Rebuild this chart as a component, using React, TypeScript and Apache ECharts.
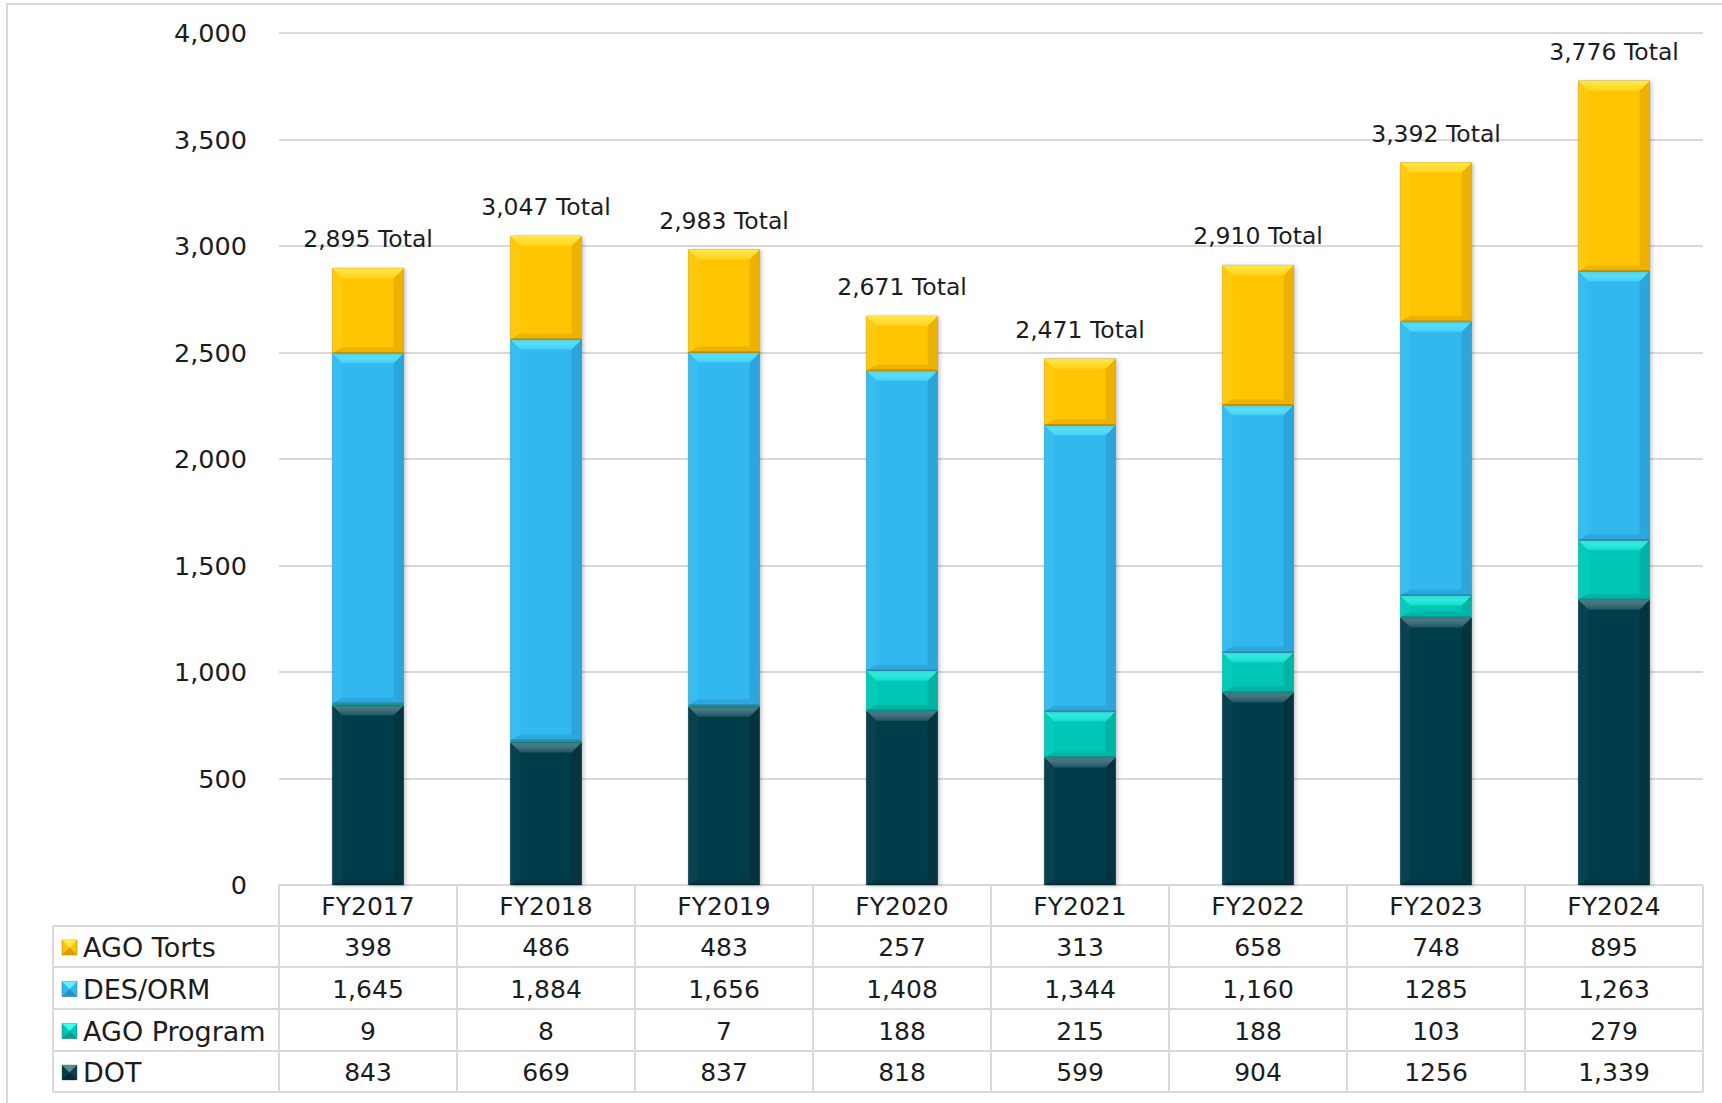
import React, { useEffect, useRef } from "react";
import * as echarts from "echarts";

// ---------- data ----------
const categories = ["FY2017", "FY2018", "FY2019", "FY2020", "FY2021", "FY2022", "FY2023", "FY2024"];
const agoTorts = [398, 486, 483, 257, 313, 658, 748, 895];
const desOrm = [1645, 1884, 1656, 1408, 1344, 1160, 1285, 1263];
const agoProgram = [9, 8, 7, 188, 215, 188, 103, 279];
const dot = [843, 669, 837, 818, 599, 904, 1256, 1339];

// table cell texts exactly as printed
const agoTortsText = ["398", "486", "483", "257", "313", "658", "748", "895"];
const desOrmText = ["1,645", "1,884", "1,656", "1,408", "1,344", "1,160", "1285", "1,263"];
const agoProgramText = ["9", "8", "7", "188", "215", "188", "103", "279"];
const dotText = ["843", "669", "837", "818", "599", "904", "1256", "1,339"];

const yMin = 0;
const yMax = 4000;
const yInterval = 500;

// ---------- layout / style ----------
const W = 1722;
const H = 1103;
const GRID_L = 279;
const GRID_R = 1703;
const GRID_T = 33;
const GRID_B = 885;
const ROWS = [885, 926, 967, 1009, 1051, 1092];
const TABLE_L = 53;
const FONT = "'DejaVu Sans', 'Noto Sans', sans-serif";
const TXT = "#1c1c1c";
const LINE = "#d9d9d9";

type Pal = { body: string; top: string; topEnd: string; left: string; right: string; bottom: string; key: string };
const palTorts: Pal = { body: "#FFC504", top: "#FFE846", topEnd: "#FFD420", left: "#FFC90E", right: "#EDB102", bottom: "#EDB300", key: "#D9A000" };
const palDes: Pal = { body: "#33B8EE", top: "#64F0FF", topEnd: "#45CDF5", left: "#38BDF0", right: "#2CA6DA", bottom: "#2DA8DE", key: "#2692C6" };
const palProg: Pal = { body: "#00C6B5", top: "#40FBF0", topEnd: "#14DACA", left: "#05CBBB", right: "#00B3A4", bottom: "#00B4A5", key: "#009E90" };
const palDot: Pal = { body: "#063C4B", top: "#5C8996", topEnd: "#205463", left: "#08414F", right: "#05343F", bottom: "#053442", key: "#032A34" };

const stackSeries = [
  { name: "DOT", values: dot, pal: palDot },
  { name: "AGO Program", values: agoProgram, pal: palProg },
  { name: "DES/ORM", values: desOrm, pal: palDes },
  { name: "AGO Torts", values: agoTorts, pal: palTorts },
];

const tableRows = [
  { name: "AGO Torts", texts: agoTortsText, pal: palTorts },
  { name: "DES/ORM", texts: desOrmText, pal: palDes },
  { name: "AGO Program", texts: agoProgramText, pal: palProg },
  { name: "DOT", texts: dotText, pal: palDot },
];

function bevelRenderer(pal: Pal) {
  return (params: any, api: any) => {
    const idx = api.value(0);
    const lo = api.value(1);
    const hi = api.value(2);
    const pLo = api.coord([idx, lo]);
    const pHi = api.coord([idx, hi]);
    const bw = api.size([1, 0])[0] * 0.4;
    const x0 = pLo[0] - bw / 2;
    const x1 = pLo[0] + bw / 2;
    const yTop = pHi[1];
    const yBot = pLo[1];
    const h = yBot - yTop;
    const b = Math.min(10, h / 2, bw / 2);
    const bb = Math.min(6, h / 3);
    return {
      type: "group",
      children: [
        {
          type: "rect",
          shape: { x: x0, y: yTop, width: bw, height: h },
          style: {
            fill: pal.body,
            stroke: "rgba(70,70,70,0.3)",
            lineWidth: 1,
            shadowBlur: 4,
            shadowColor: "rgba(0,0,0,0.22)",
            shadowOffsetX: 2,
            shadowOffsetY: 1,
          },
        },
        {
          type: "polygon",
          shape: { points: [[x0, yTop], [x0 + b, yTop + b], [x0 + b, yBot - bb], [x0, yBot]] },
          style: { fill: pal.left },
        },
        {
          type: "polygon",
          shape: { points: [[x1, yTop], [x1, yBot], [x1 - b, yBot - bb], [x1 - b, yTop + b]] },
          style: { fill: pal.right },
        },
        {
          type: "polygon",
          shape: { points: [[x0, yBot], [x0 + b, yBot - bb], [x1 - b, yBot - bb], [x1, yBot]] },
          style: { fill: pal.bottom },
        },
        {
          type: "polygon",
          shape: { points: [[x0, yTop], [x1, yTop], [x1 - b, yTop + b], [x0 + b, yTop + b]] },
          style: {
            fill: new echarts.graphic.LinearGradient(0, 0, 0, 1, [
              { offset: 0, color: pal.top },
              { offset: 1, color: pal.topEnd },
            ]),
          },
        },
        {
          type: "line",
          shape: { x1: x0 + 0.5, y1: yBot - 0.5, x2: x1 - 0.5, y2: yBot - 0.5 },
          style: { stroke: "rgba(0,0,0,0.18)", lineWidth: 1.5 },
        },
      ],
    };
  };
}

function fmt(n: number) {
  return n.toLocaleString("en-US");
}

function buildOption() {
  const base = categories.map(() => 0);
  const series: any[] = stackSeries.map((s) => {
    const data = s.values.map((v, i) => {
      const lo = base[i];
      base[i] += v;
      return [i, lo, lo + v];
    });
    return {
      type: "custom",
      name: s.name,
      renderItem: bevelRenderer(s.pal),
      encode: { x: 0, y: [1, 2] },
      data,
      z: 2,
    };
  });
  const totals = base.slice();
  series.push({
    type: "custom",
    name: "Total",
    encode: { x: 0, y: 1 },
    data: totals.map((t, i) => [i, t]),
    z: 3,
    renderItem: (params: any, api: any) => {
      const p = api.coord([api.value(0), api.value(1)]);
      return {
        type: "text",
        x: p[0],
        y: p[1] - 29,
        style: {
          text: fmt(api.value(1)) + " Total",
          fill: TXT,
          fontSize: 23.5,
          fontFamily: FONT,
          align: "center",
          verticalAlign: "middle",
        },
      };
    },
  });

  // ----- data table as graphics -----
  const colW = (GRID_R - GRID_L) / categories.length;
  const g: any[] = [];
  // outer frame (only top/left visible in the crop)
  g.push({
    type: "rect",
    shape: { x: 7, y: 4, width: W + 40, height: H + 40 },
    style: { fill: "none", stroke: LINE, lineWidth: 2 },
    silent: true,
    z: 0,
  });
  ROWS.forEach((y, r) => {
    g.push({
      type: "line",
      shape: { x1: r === 0 ? GRID_L : TABLE_L, y1: y, x2: GRID_R, y2: y },
      style: { stroke: LINE, lineWidth: 2 },
      silent: true,
    });
  });
  g.push({
    type: "line",
    shape: { x1: TABLE_L, y1: ROWS[1], x2: TABLE_L, y2: ROWS[5] },
    style: { stroke: LINE, lineWidth: 2 },
    silent: true,
  });
  for (let k = 0; k <= categories.length; k++) {
    const x = GRID_L + k * colW;
    g.push({
      type: "line",
      shape: { x1: x, y1: ROWS[0], x2: x, y2: ROWS[5] },
      style: { stroke: LINE, lineWidth: 2 },
      silent: true,
    });
  }
  categories.forEach((c, i) => {
    g.push({
      type: "text",
      x: GRID_L + (i + 0.5) * colW,
      y: (ROWS[0] + ROWS[1]) / 2 + 1,
      style: { text: c, fill: TXT, fontSize: 25, fontFamily: FONT, align: "center", verticalAlign: "middle" },
      silent: true,
    });
  });
  tableRows.forEach((row, r) => {
    const yc = (ROWS[r + 1] + ROWS[r + 2]) / 2 + 1;
    const kx = 62;
    const ks = 15;
    const ky = yc - ks / 2;
    g.push({
      type: "rect",
      shape: { x: kx, y: ky, width: ks, height: ks },
      style: { fill: row.pal.body, stroke: "rgba(60,60,60,0.35)", lineWidth: 1 },
      silent: true,
    });
    g.push({
      type: "polygon",
      shape: { points: [[kx, ky], [kx + ks, ky], [kx + ks / 2, ky + ks / 2]] },
      style: { fill: row.pal.top },
      silent: true,
    });
    g.push({
      type: "polygon",
      shape: { points: [[kx, ky + ks], [kx + ks, ky + ks], [kx + ks / 2, ky + ks / 2]] },
      style: { fill: row.pal.key },
      silent: true,
    });
    g.push({
      type: "text",
      x: 83,
      y: yc,
      style: { text: row.name, fill: TXT, fontSize: 27, fontFamily: FONT, align: "left", verticalAlign: "middle" },
      silent: true,
    });
    row.texts.forEach((t, i) => {
      g.push({
        type: "text",
        x: GRID_L + (i + 0.5) * colW,
        y: yc,
        style: { text: t, fill: TXT, fontSize: 25, fontFamily: FONT, align: "center", verticalAlign: "middle" },
        silent: true,
      });
    });
  });

  return {
    animation: false,
    backgroundColor: "#ffffff",
    textStyle: { fontFamily: FONT },
    grid: { left: GRID_L, right: W - GRID_R, top: GRID_T, bottom: H - GRID_B, containLabel: false },
    xAxis: {
      type: "category",
      data: categories,
      axisLabel: { show: false },
      axisTick: { show: false },
      axisLine: { show: false },
      splitLine: { show: false },
    },
    yAxis: {
      type: "value",
      min: yMin,
      max: yMax,
      interval: yInterval,
      axisLine: { show: false },
      axisTick: { show: false },
      axisLabel: {
        color: TXT,
        fontSize: 25.5,
        fontFamily: FONT,
        margin: 32,
        formatter: (v: number) => fmt(v),
      },
      splitLine: { lineStyle: { color: LINE, width: 2 } },
    },
    series,
    graphic: { elements: g },
  };
}

export default function App() {
  const ref = useRef<HTMLDivElement>(null);
  useEffect(() => {
    document.body.style.margin = "0";
    if (!ref.current) return;
    const chart = echarts.init(ref.current, undefined, { renderer: "svg" });
    chart.setOption(buildOption() as any);
    return () => chart.dispose();
  }, []);
  return <div ref={ref} style={{ width: W, height: H, position: "absolute", left: 0, top: 0, background: "#fff" }} />;
}
